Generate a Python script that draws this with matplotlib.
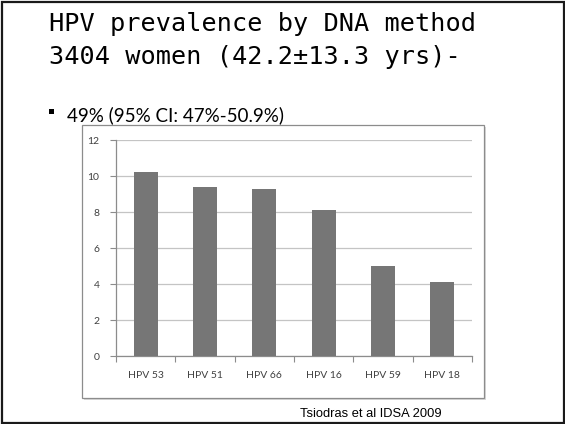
#!/usr/bin/env python3
"""Slide: HPV prevalence by DNA method, bar chart."""

import matplotlib

matplotlib.use("Agg")
import matplotlib.pyplot as plt
from matplotlib.patches import Rectangle
import numpy as np

# data
hpv_types = ["HPV 53", "HPV 51", "HPV 66", "HPV 16", "HPV 59", "HPV 18"]
prevalence = [10.2, 9.4, 9.3, 8.1, 5.0, 4.1]
y_ticks = [0, 2, 4, 6, 8, 10, 12]

title_lines = ["HPV prevalence by DNA method", "3404 women (42.2\u00b113.3 yrs)-"]
bullet_text = "49% (95% CI: 47%-50.9%)"
source_text = "Tsiodras et al IDSA 2009"

W, H = 565, 424
fig = plt.figure(figsize=(W / 100, H / 100), dpi=100)
fig.patch.set_facecolor("white")


def fx(px):
    return px / W


def fy(py):
    return 1 - py / H


def box(x0, y0, x1, y1, **kw):
    # rectangle given in pixel coords (top-left origin)
    r = Rectangle((fx(x0), fy(y1)), fx(x1 - x0), (y1 - y0) / H, transform=fig.transFigure, **kw)
    fig.patches.append(r)
    return r


# slide frame
box(1.5, 1.5, 563.5, 422.5, fill=False, edgecolor="#1a1a1a", linewidth=1.6)

# title (monospace, like Consolas)
for i, line in enumerate(title_lines):
    fig.text(fx(49), fy(31 + i * 33), line, family="DejaVu Sans Mono", fontsize=18.2,
             color="black", ha="left", va="baseline")

# bullet
box(49, 109, 54, 114, facecolor="black", edgecolor="none")
fig.text(fx(67), fy(121), bullet_text, family="Lato", fontsize=13.5, color="black",
         ha="left", va="baseline")

# chart box with a faint shadow
box(84, 127, 486, 400, facecolor="#d9d9d9", edgecolor="none", zorder=0)
box(82, 125, 484, 398, facecolor="white", edgecolor="#8c8c8c", linewidth=0.9, zorder=0.5)

ax = fig.add_axes([fx(116), fy(356), fx(356), 216 / H])
ax.set_zorder(2)
ax.set_facecolor("none")
x = np.arange(len(hpv_types))
ax.bar(x, prevalence, width=0.4, color="#767676", zorder=3)

ax.set_xlim(-0.5, len(hpv_types) - 0.5)
ax.set_ylim(0, 12)
ax.set_yticks(y_ticks)
ax.set_yticklabels([str(v) for v in y_ticks])
ax.yaxis.grid(True, color="#c4c4c4", linewidth=0.9, zorder=0)
ax.set_axisbelow(True)

# category boundary ticks, labels in between
ax.set_xticks(np.arange(-0.5, len(hpv_types)), minor=False)
ax.set_xticklabels([])
ax.set_xticks(x, minor=True)
ax.set_xticklabels(hpv_types, minor=True)
ax.tick_params(axis="x", which="major", length=4, color="#8c8c8c", direction="out")
ax.tick_params(axis="x", which="minor", length=0, pad=11, labelsize=7.5, labelcolor="#404040")
ax.tick_params(axis="y", length=4, color="#8c8c8c", pad=8, labelsize=7.5, labelcolor="#404040")
for lab in ax.get_xticklabels(minor=True) + ax.get_yticklabels():
    lab.set_family("Lato")

for side in ("top", "right"):
    ax.spines[side].set_visible(False)
for side in ("left", "bottom"):
    ax.spines[side].set_color("#8c8c8c")
    ax.spines[side].set_linewidth(0.9)

fig.text(fx(300), fy(414), source_text, family="Liberation Sans", fontsize=9.3,
         color="black", ha="left", va="center")

fig.savefig("out.png", dpi=100)
